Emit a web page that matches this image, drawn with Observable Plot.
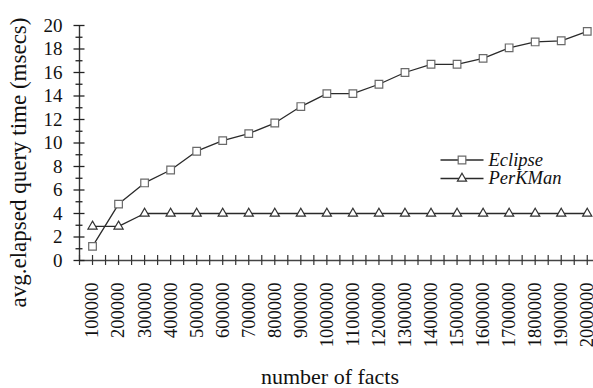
<!DOCTYPE html>
<html>
<head>
<meta charset="utf-8">
<script src="https://cdn.jsdelivr.net/npm/d3@7"></script>
<script src="https://cdn.jsdelivr.net/npm/@observablehq/plot@0.6"></script>
<style>
  html, body { margin: 0; padding: 0; background: #fff; }
</style>
</head>
<body>
<div id="chart"></div>
<script>
// ---- data ----
const facts = [100000, 200000, 300000, 400000, 500000, 600000, 700000, 800000, 900000, 1000000,
               1100000, 1200000, 1300000, 1400000, 1500000, 1600000, 1700000, 1800000, 1900000, 2000000];
const eclipse = [1.2, 4.8, 6.6, 7.7, 9.3, 10.2, 10.8, 11.7, 13.1, 14.2,
                 14.2, 15.0, 16.0, 16.7, 16.7, 17.2, 18.1, 18.6, 18.7, 19.5];
const perkman = [2.9, 2.9, 4, 4, 4, 4, 4, 4, 4, 4,
                 4, 4, 4, 4, 4, 4, 4, 4, 4, 4];
const seriesNames = ["Eclipse", "PerKMan"];
const yTickLabels = [0, 2, 4, 6, 8, 10, 12, 14, 16, 18, 20];
const yMinorTicks = [1, 3, 5, 7, 9, 11, 13, 15, 17, 19];
const xTickMarks = d3.range(50000, 2000001, 50000);
const xDomain = [50000, 2024000];
const yDomain = [0, 20];
const xTitle = "number of facts";
const yTitle = "avg.elapsed query time (msecs)";

const rows = facts.flatMap((f, i) => [
  {facts: f, time: eclipse[i], series: "Eclipse"},
  {facts: f, time: perkman[i], series: "PerKMan"}
]);
const eRows = rows.filter(d => d.series === "Eclipse");
const pRows = rows.filter(d => d.series === "PerKMan");

const FONT = "'Liberation Serif', 'Times New Roman', serif";
const lineColor = "#2a2a2a";

const hline = {draw(ctx) { ctx.moveTo(-21.5, 0); ctx.lineTo(21.5, 0); }};

const legendMarks = seriesNames.flatMap((name, i) => [
  Plot.dot([name], {frameAnchor: "top-left", dx: 382.5, dy: 134.5 + 18.5 * i, symbol: hline, r: 4, stroke: lineColor, strokeWidth: 1.3, fill: "none"}),
  Plot.dot([name], {frameAnchor: "top-left", dx: 382.5, dy: 134.5 + 18.5 * i,
    symbol: i === 0 ? "square" : "triangle", r: i === 0 ? 4.3 : 3.4,
    stroke: i === 0 ? "#6a6a6a" : "#333", strokeWidth: 1.2, fill: "white"}),
  Plot.text([name], {frameAnchor: "top-left", dx: 409, dy: 134.5 + 18.5 * i, text: d => d,
    textAnchor: "start", lineAnchor: "middle", fontSize: 18.5, fontStyle: "italic", fill: "#111"})
]);

const chart = Plot.plot({
  width: 593,
  height: 388,
  marginLeft: 79,
  marginRight: 0,
  marginTop: 25,
  marginBottom: 128,
  style: {fontFamily: FONT, background: "white", color: "#111"},
  x: {type: "linear", domain: xDomain},
  y: {type: "linear", domain: yDomain},
  marks: [
    // axis lines
    Plot.ruleY([0], {stroke: "#444", strokeWidth: 1.6}),
    Plot.ruleX([xDomain[0]], {stroke: "#333", strokeWidth: 1.4}),
    // crossing ticks
    Plot.axisX({ticks: xTickMarks, tickSize: 10, dy: -5, tickFormat: () => "", label: null, stroke: "#333", strokeWidth: 1.2}),
    Plot.axisY({ticks: yTickLabels, tickSize: 11, dx: 5.5, tickFormat: () => "", label: null, stroke: "#222", strokeWidth: 1.3}),
    Plot.axisY({ticks: yMinorTicks, tickSize: 7, dx: 3.5, tickFormat: () => "", label: null, stroke: "#222", strokeWidth: 1.3}),
    // y tick labels
    Plot.axisY({ticks: yTickLabels, tickSize: 0, tickPadding: 17, fontSize: 19, label: null, fill: "#111"}),
    // x tick labels (rotated)
    Plot.text(facts, {x: d => d, frameAnchor: "bottom", rotate: -90, textAnchor: "end", lineAnchor: "middle",
      dy: 22, text: d => String(d), fontSize: 18.5, fill: "#111"}),
    // series
    Plot.line(eRows, {x: "facts", y: "time", stroke: lineColor, strokeWidth: 1.3}),
    Plot.line(pRows, {x: "facts", y: "time", stroke: lineColor, strokeWidth: 1.3}),
    Plot.dot(eRows, {x: "facts", y: "time", symbol: "square", r: 4.3, stroke: "#6a6a6a", strokeWidth: 1.2, fill: "white"}),
    Plot.dot(pRows, {x: "facts", y: "time", symbol: "triangle", r: 3.4, stroke: "#333", strokeWidth: 1.2, fill: "white"}),
    // legend
    ...legendMarks,
    // axis titles
    Plot.text([xTitle], {frameAnchor: "bottom", dx: -6.5, dy: 116, text: d => d, fontSize: 22, lineAnchor: "middle", fill: "#111"}),
    Plot.text([yTitle], {frameAnchor: "left", rotate: -90, dx: -61, dy: 19.5, text: d => d, fontSize: 23,
      textAnchor: "middle", lineAnchor: "middle", fill: "#111"})
  ]
});
document.getElementById("chart").appendChild(chart);
</script>
</body>
</html>
